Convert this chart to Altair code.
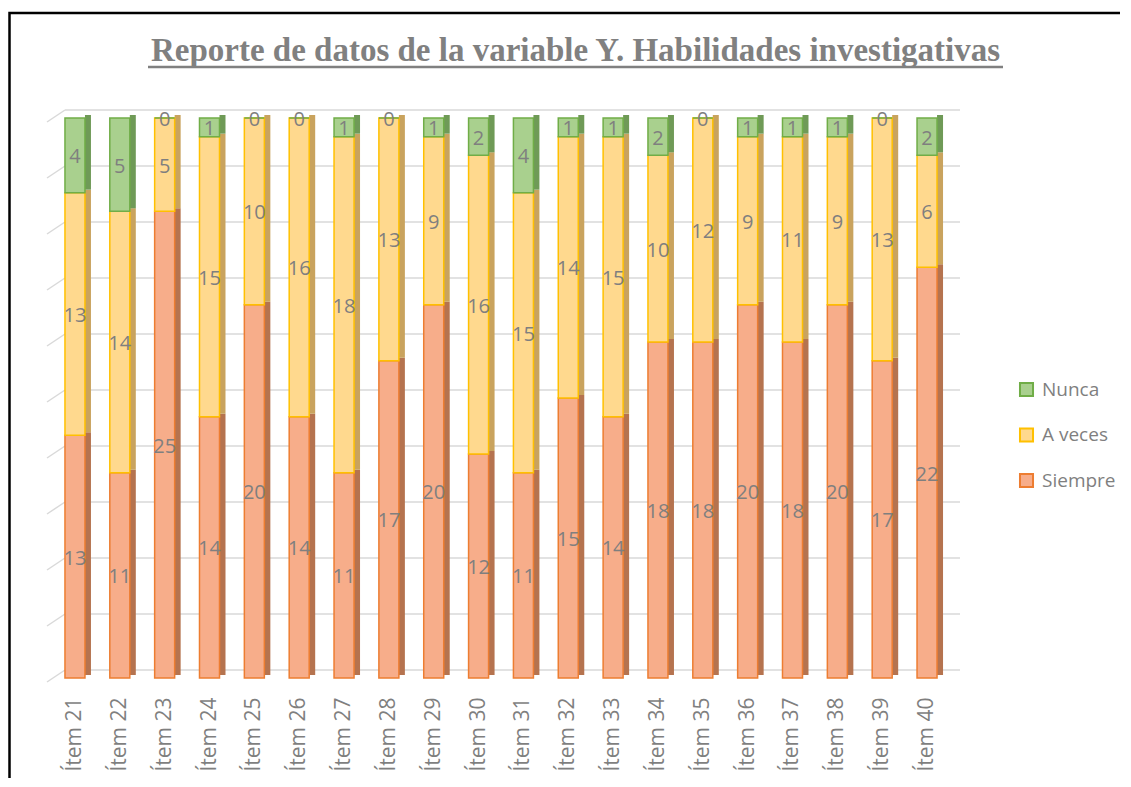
import altair as alt
import pandas as pd

items = ["Ítem 21", "Ítem 22", "Ítem 23", "Ítem 24", "Ítem 25", "Ítem 26", "Ítem 27",
         "Ítem 28", "Ítem 29", "Ítem 30", "Ítem 31", "Ítem 32", "Ítem 33", "Ítem 34",
         "Ítem 35", "Ítem 36", "Ítem 37", "Ítem 38", "Ítem 39", "Ítem 40"]
siempre = [13, 11, 25, 14, 20, 14, 11, 17, 20, 12, 11, 15, 14, 18, 18, 20, 18, 20, 17, 22]
a_veces = [13, 14, 5, 15, 10, 16, 18, 13, 9, 16, 15, 14, 15, 10, 12, 9, 11, 9, 13, 6]
nunca = [4, 5, 0, 1, 0, 0, 1, 0, 1, 2, 4, 1, 1, 2, 0, 1, 1, 1, 0, 2]
categories = ["Nunca", "A veces", "Siempre"]
grid_values = [0, 3, 6, 9, 12, 15, 18, 21, 24, 27, 30]
title_text = "Reporte de datos de la variable Y. Habilidades investigativas"

front_fill = ["#A9D08E", "#FFD98E", "#F7AD8A"]
edge_color = ["#70AD47", "#FFC000", "#ED7D31"]
side_expr = ("datum.category == 'Siempre' ? '#B5734F' : "
             "(datum.category == 'A veces' ? '#C9A35E' : '#6F9A57')")

rows = []
for i, it in enumerate(items):
    rows.append({"item": it, "category": "Siempre", "value": siempre[i], "order": 0})
    rows.append({"item": it, "category": "A veces", "value": a_veces[i], "order": 1})
    rows.append({"item": it, "category": "Nunca", "value": nunca[i], "order": 2})
df = pd.DataFrame(rows)
grid_df = pd.DataFrame({"v": grid_values})
one = pd.DataFrame({"k": [0]})

W, H = 918, 560
FONT = "Open Sans"
GRAY = "#7F7F7F"

yscale = alt.Scale(domain=[0, 30], nice=False, zero=True)
xenc = alt.X("item:N", sort=items,
             scale=alt.Scale(paddingInner=0.554, paddingOuter=0.512),
             axis=alt.Axis(title=None, labelAngle=-90, domain=False, ticks=False,
                           labelPadding=19, labelFontSize=21, labelColor=GRAY,
                           labelFont=FONT, grid=False))

base = alt.Chart(df).transform_stack(
    stack="value", groupby=["item"], as_=["y0", "y1"],
    sort=[alt.SortField("order", order="ascending")]
).transform_calculate(ymid="(datum.y0 + datum.y1) / 2", side=side_expr)

legend = alt.Legend(title=None, orient="none", legendX=975, legendY=262,
                    symbolType="square", symbolSize=170, symbolStrokeWidth=2,
                    labelFontSize=19, labelFont=FONT, labelColor=GRAY,
                    rowPadding=22.5, labelOffset=6)

front = base.mark_bar(strokeWidth=1.5).encode(
    x=xenc,
    y=alt.Y("y1:Q", scale=yscale, axis=None),
    y2="y0:Q",
    fill=alt.Fill("category:N", scale=alt.Scale(domain=categories, range=front_fill), legend=legend),
    stroke=alt.Stroke("category:N", scale=alt.Scale(domain=categories, range=edge_color), legend=legend),
)

side = base.mark_bar(width=6, xOffset=13, yOffset=-3, y2Offset=-3).encode(
    x=xenc,
    y=alt.Y("y1:Q", scale=yscale, axis=None),
    y2="y0:Q",
    fill=alt.Fill("side:N", scale=None),
)

labels = base.mark_text(font=FONT, fontSize=20, color=GRAY, dy=2).encode(
    x=xenc,
    y=alt.Y("ymid:Q", scale=yscale, axis=None),
    text="value:Q",
)

grid_h = alt.Chart(grid_df).mark_rule(color="#D9D9D9", strokeWidth=1.5, yOffset=-8).encode(
    y=alt.Y("v:Q", scale=yscale, axis=None),
    x=alt.value(23), x2=alt.value(W),
)
grid_d = alt.Chart(grid_df).mark_rule(color="#D9D9D9", strokeWidth=1.5, yOffset=4, y2Offset=-8).encode(
    y=alt.Y("v:Q", scale=yscale, axis=None),
    y2="v:Q",
    x=alt.value(5), x2=alt.value(23),
)

frame = alt.Chart(one).mark_rect(fillOpacity=0, stroke="black", strokeWidth=2.5).encode(
    x=alt.value(-32.5), x2=alt.value(1300), y=alt.value(-105), y2=alt.value(900),
)

title = alt.Chart(one).mark_text(font="Liberation Serif", fontSize=33, fontWeight="bold",
                                  color="#808080", align="center", baseline="alphabetic").encode(
    x=alt.value(533.5), y=alt.value(-57), text=alt.value(title_text),
)
underline = alt.Chart(one).mark_rule(color="#808080", strokeWidth=2.5).encode(
    x=alt.value(106), x2=alt.value(961), y=alt.value(-51),
)

chart = alt.layer(frame, grid_h, grid_d, side, front, labels, title, underline).properties(
    width=W, height=H, autosize="none",
    padding={"left": 34, "top": 110, "right": 160, "bottom": 100},
).configure_view(strokeWidth=0)

chart.save("out.html", embed_options={"renderer": "svg", "actions": False})
